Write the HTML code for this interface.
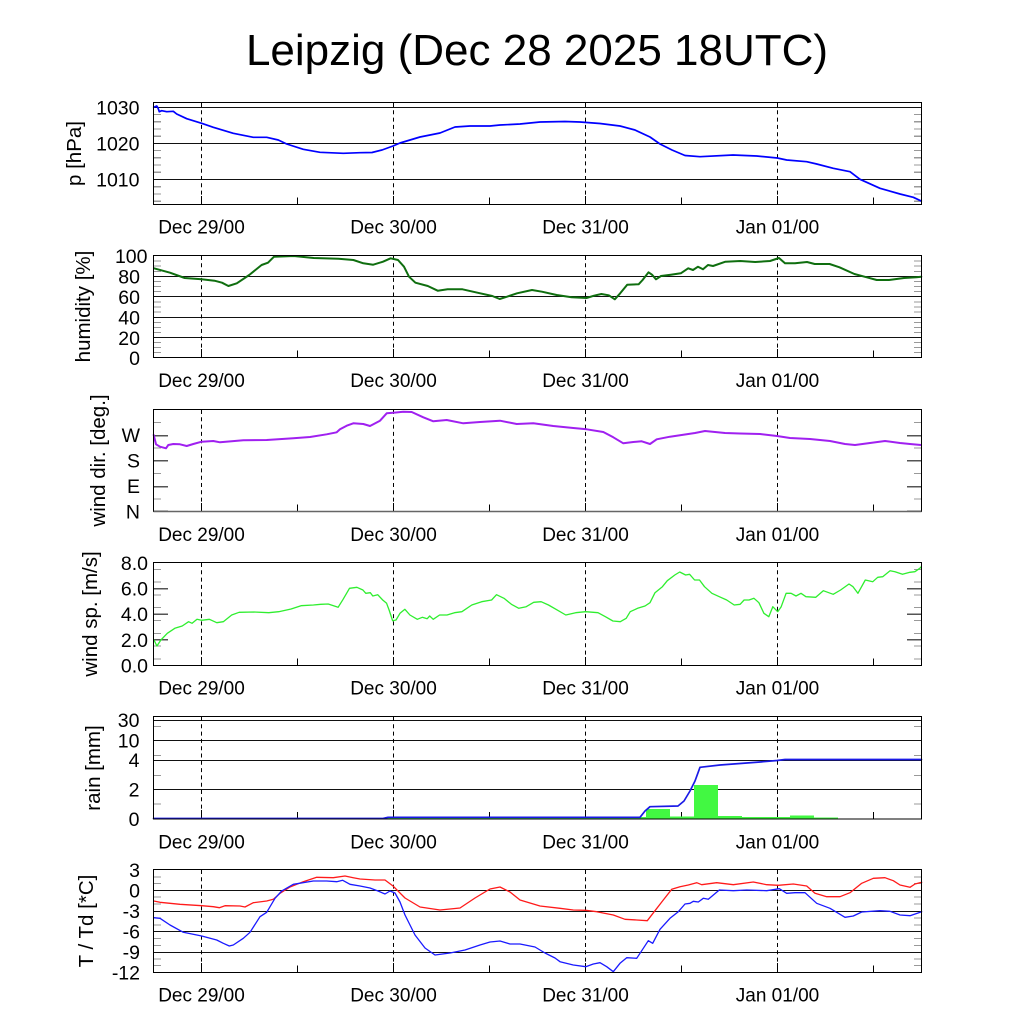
<!DOCTYPE html>
<html><head><meta charset="utf-8"><style>
html,body{margin:0;padding:0;background:#fff;}
svg{display:block;}
text{font-family:"Liberation Sans",Arial,sans-serif;fill:#000;}
.tl{font-size:19.5px;text-anchor:end;}
.xl{font-size:19px;text-anchor:middle;}
.yl{font-size:20.5px;text-anchor:middle;}
.fr{fill:none;stroke:#000;stroke-width:1;}
.gr{stroke:#111;stroke-width:1;shape-rendering:crispEdges;}
.dl{stroke:#000;stroke-width:1;stroke-dasharray:4 3.3;}
.mt{stroke:#999;stroke-width:1.2;shape-rendering:crispEdges;}
.Mt{stroke:#555;stroke-width:1.5;shape-rendering:crispEdges;}
.xt{stroke:#000;stroke-width:1;}
.ln{fill:none;stroke-linejoin:round;stroke-linecap:round;}
</style></head><body>
<svg width="1024" height="1024" viewBox="0 0 1024 1024" xmlns="http://www.w3.org/2000/svg">
<rect x="0" y="0" width="1024" height="1024" fill="#fff"/>
<text x="537" y="65" style="font-size:44px;text-anchor:middle;">Leipzig (Dec 28 2025 18UTC)</text>

<!-- ============ PANEL 1: pressure ============ -->
<g>
<line class="gr" x1="153.5" y1="107.5" x2="921.5" y2="107.5"/>
<line class="gr" x1="153.5" y1="143.5" x2="921.5" y2="143.5"/>
<line class="gr" x1="153.5" y1="179.5" x2="921.5" y2="179.5"/>
<g class="mt">
<line x1="154" y1="114.5" x2="161" y2="114.5"/><line x1="154" y1="121.8" x2="161" y2="121.8"/><line x1="154" y1="129" x2="161" y2="129"/><line x1="154" y1="136.3" x2="161" y2="136.3"/>
<line x1="154" y1="150.5" x2="161" y2="150.5"/><line x1="154" y1="157.8" x2="161" y2="157.8"/><line x1="154" y1="165" x2="161" y2="165"/><line x1="154" y1="172.3" x2="161" y2="172.3"/>
<line x1="154" y1="186.8" x2="161" y2="186.8"/><line x1="154" y1="194" x2="161" y2="194"/><line x1="154" y1="201.3" x2="161" y2="201.3"/>
<line x1="914" y1="114.5" x2="921" y2="114.5"/><line x1="914" y1="121.8" x2="921" y2="121.8"/><line x1="914" y1="129" x2="921" y2="129"/><line x1="914" y1="136.3" x2="921" y2="136.3"/>
<line x1="914" y1="150.5" x2="921" y2="150.5"/><line x1="914" y1="157.8" x2="921" y2="157.8"/><line x1="914" y1="165" x2="921" y2="165"/><line x1="914" y1="172.3" x2="921" y2="172.3"/>
<line x1="914" y1="186.8" x2="921" y2="186.8"/><line x1="914" y1="194" x2="921" y2="194"/><line x1="914" y1="201.3" x2="921" y2="201.3"/>
</g>
<line class="dl" x1="201.5" y1="103" x2="201.5" y2="196"/><line class="dl" x1="393.5" y1="103" x2="393.5" y2="196"/><line class="dl" x1="585.5" y1="103" x2="585.5" y2="196"/><line class="dl" x1="777.5" y1="103" x2="777.5" y2="196"/>
<g class="xt"><line x1="201.5" y1="196" x2="201.5" y2="204.5"/><line x1="393.5" y1="196" x2="393.5" y2="204.5"/><line x1="585.5" y1="196" x2="585.5" y2="204.5"/><line x1="777.5" y1="196" x2="777.5" y2="204.5"/>
<line x1="297.5" y1="197.5" x2="297.5" y2="204.5"/><line x1="489.5" y1="197.5" x2="489.5" y2="204.5"/><line x1="681.5" y1="197.5" x2="681.5" y2="204.5"/><line x1="873.5" y1="197.5" x2="873.5" y2="204.5"/></g>
<polyline class="ln" stroke="#0000ff" stroke-width="1.7" points="153.7,107.3 156.7,106 158,108 159.3,111.7 161.7,110.7 166.7,111.7 173.3,111.3 176.7,114 186.7,118.7 201.7,123.3 213.3,127.3 233.3,133.3 253.3,137.3 266.7,137.3 278.3,140 286.7,144 303.3,149.3 320,152.3 343.3,153.3 360,152.7 372,152.5 382,150 393,146 400,143 420,137 440,133 455,127 470,126 490,126 500,125 520,124 540,122 565,121.5 580,122 600,123.5 620,126 635,130 650,137 660,144 672,150 685,155.5 700,156.7 733,155 756.7,156 777.3,158 786.7,160 806.7,161.7 816.7,164 833.3,168.3 850,171.7 860,179.3 880,188.3 900,194 913.3,197.3 921.3,201"/>
<rect class="fr" x="153.5" y="102.5" width="768" height="102"/>
<text class="tl" x="139.5" y="114.5">1030</text>
<text class="tl" x="139.5" y="150.5">1020</text>
<text class="tl" x="139.5" y="186.5">1010</text>
<text class="yl" transform="translate(81,153.5) rotate(-90)">p [hPa]</text>
<text class="xl" x="201.5" y="233.5">Dec 29/00</text><text class="xl" x="393.5" y="233.5">Dec 30/00</text><text class="xl" x="585.5" y="233.5">Dec 31/00</text><text class="xl" x="777.5" y="233.5">Jan 01/00</text>
</g>

<!-- ============ PANEL 2: humidity ============ -->
<g>
<line class="gr" x1="153.5" y1="276.5" x2="921.5" y2="276.5"/>
<line class="gr" x1="153.5" y1="296.5" x2="921.5" y2="296.5"/>
<line class="gr" x1="153.5" y1="317.5" x2="921.5" y2="317.5"/>
<line class="gr" x1="153.5" y1="337.5" x2="921.5" y2="337.5"/>
<g class="mt">
<line x1="154" y1="261" x2="161" y2="261"/><line x1="154" y1="266" x2="161" y2="266"/><line x1="154" y1="271.5" x2="161" y2="271.5"/>
<line x1="154" y1="281.5" x2="161" y2="281.5"/><line x1="154" y1="286.5" x2="161" y2="286.5"/><line x1="154" y1="291.5" x2="161" y2="291.5"/>
<line x1="154" y1="302" x2="161" y2="302"/><line x1="154" y1="307" x2="161" y2="307"/><line x1="154" y1="312" x2="161" y2="312"/>
<line x1="154" y1="322.5" x2="161" y2="322.5"/><line x1="154" y1="327.5" x2="161" y2="327.5"/><line x1="154" y1="332.5" x2="161" y2="332.5"/>
<line x1="154" y1="342.5" x2="161" y2="342.5"/><line x1="154" y1="347.5" x2="161" y2="347.5"/><line x1="154" y1="352.5" x2="161" y2="352.5"/>
<line x1="914" y1="261" x2="921" y2="261"/><line x1="914" y1="266" x2="921" y2="266"/><line x1="914" y1="271.5" x2="921" y2="271.5"/>
<line x1="914" y1="281.5" x2="921" y2="281.5"/><line x1="914" y1="286.5" x2="921" y2="286.5"/><line x1="914" y1="291.5" x2="921" y2="291.5"/>
<line x1="914" y1="302" x2="921" y2="302"/><line x1="914" y1="307" x2="921" y2="307"/><line x1="914" y1="312" x2="921" y2="312"/>
<line x1="914" y1="322.5" x2="921" y2="322.5"/><line x1="914" y1="327.5" x2="921" y2="327.5"/><line x1="914" y1="332.5" x2="921" y2="332.5"/>
<line x1="914" y1="342.5" x2="921" y2="342.5"/><line x1="914" y1="347.5" x2="921" y2="347.5"/><line x1="914" y1="352.5" x2="921" y2="352.5"/>
</g>
<line class="dl" x1="201.5" y1="256" x2="201.5" y2="349"/><line class="dl" x1="393.5" y1="256" x2="393.5" y2="349"/><line class="dl" x1="585.5" y1="256" x2="585.5" y2="349"/><line class="dl" x1="777.5" y1="256" x2="777.5" y2="349"/>
<g class="xt"><line x1="201.5" y1="349" x2="201.5" y2="357.5"/><line x1="393.5" y1="349" x2="393.5" y2="357.5"/><line x1="585.5" y1="349" x2="585.5" y2="357.5"/><line x1="777.5" y1="349" x2="777.5" y2="357.5"/>
<line x1="297.5" y1="350.5" x2="297.5" y2="357.5"/><line x1="489.5" y1="350.5" x2="489.5" y2="357.5"/><line x1="681.5" y1="350.5" x2="681.5" y2="357.5"/><line x1="873.5" y1="350.5" x2="873.5" y2="357.5"/></g>
<polyline class="ln" stroke="#0f6e0f" stroke-width="2" points="154,268.3 170,272.7 184.7,278 201.6,279.3 214.5,280.7 222,282.7 228.4,286 236.8,283.3 249.2,275 261.6,265 268,262.7 274,256.7 293.8,256 313.7,258 338.5,258.7 353.4,260 363.3,263.3 373.2,264.7 383,261.7 390.6,258.3 398,260 404,266.7 409,276.7 415.4,282.7 427.8,286 437.7,290.7 447.6,289.3 462.5,289.3 477.4,292.7 492.3,296 499.7,299 507,296.7 517,293.3 532,290 541.9,291.7 556.7,295 571.6,297.3 586.5,298 594,295.7 601.4,294 608.8,295.3 614.8,299.3 620.2,293.3 627.2,284.7 638.6,284.3 642.6,280 648.5,272.3 652,274.7 656,279.3 661,276 670.8,274.7 680.8,273.3 688.2,268.3 693,270 698,266.7 703,269.3 708,265 713,266 725.4,261.7 740.3,261 755.2,262 770,261 779,258 785,263.3 795,263.3 807,262 814.7,264 829.6,264 839.5,267.3 854.4,274 866.8,277.3 876.7,280 889,280 904,278 916.4,277.3 921.3,276.7"/>
<rect class="fr" x="153.5" y="255.5" width="768" height="102"/>
<text class="tl" x="147.5" y="263">100</text>
<text class="tl" x="140" y="283.5">80</text>
<text class="tl" x="140" y="304">60</text>
<text class="tl" x="140" y="324.5">40</text>
<text class="tl" x="140" y="345">20</text>
<text class="tl" x="140" y="365">0</text>
<text class="yl" transform="translate(90,306.5) rotate(-90)">humidity [%]</text>
<text class="xl" x="201.5" y="387">Dec 29/00</text><text class="xl" x="393.5" y="387">Dec 30/00</text><text class="xl" x="585.5" y="387">Dec 31/00</text><text class="xl" x="777.5" y="387">Jan 01/00</text>
</g>

<!-- ============ PANEL 3: wind dir ============ -->
<g>
<g class="mt">
<line x1="154" y1="422.5" x2="161" y2="422.5"/><line x1="154" y1="448" x2="161" y2="448"/><line x1="154" y1="473.5" x2="161" y2="473.5"/><line x1="154" y1="499" x2="161" y2="499"/>
<line x1="914" y1="422.5" x2="921" y2="422.5"/><line x1="914" y1="448" x2="921" y2="448"/><line x1="914" y1="473.5" x2="921" y2="473.5"/><line x1="914" y1="499" x2="921" y2="499"/>
</g>
<g class="Mt">
<line x1="154" y1="435.5" x2="168" y2="435.5"/><line x1="154" y1="460.5" x2="168" y2="460.5"/><line x1="154" y1="486.5" x2="168" y2="486.5"/><line x1="154" y1="511" x2="168" y2="511"/>
<line x1="907" y1="435.5" x2="921" y2="435.5"/><line x1="907" y1="460.5" x2="921" y2="460.5"/><line x1="907" y1="486.5" x2="921" y2="486.5"/><line x1="907" y1="511" x2="921" y2="511"/>
</g>
<line class="dl" x1="201.5" y1="410" x2="201.5" y2="503"/><line class="dl" x1="393.5" y1="410" x2="393.5" y2="503"/><line class="dl" x1="585.5" y1="410" x2="585.5" y2="503"/><line class="dl" x1="777.5" y1="410" x2="777.5" y2="503"/>
<g class="xt"><line x1="201.5" y1="503" x2="201.5" y2="511.5"/><line x1="393.5" y1="503" x2="393.5" y2="511.5"/><line x1="585.5" y1="503" x2="585.5" y2="511.5"/><line x1="777.5" y1="503" x2="777.5" y2="511.5"/>
<line x1="297.5" y1="504.5" x2="297.5" y2="511.5"/><line x1="489.5" y1="504.5" x2="489.5" y2="511.5"/><line x1="681.5" y1="504.5" x2="681.5" y2="511.5"/><line x1="873.5" y1="504.5" x2="873.5" y2="511.5"/></g>
<polyline class="ln" stroke="#a020f0" stroke-width="2" points="153.7,435 156,444.3 160,446.7 166,448.3 168.3,445 173.3,444 180,444.3 186.7,446 193.3,444 201.7,441.7 213.3,441 220,442.3 243.3,440.3 266.7,440 293.3,438.3 310,437 326.7,434.3 336.7,432.3 340,429.3 346.7,425.7 353.3,423.3 363.3,424 370,426 380,420.7 386.7,413.3 393.3,412.7 403.3,411.7 411.7,412 423.3,417.3 433.3,421.3 446.7,420 463.3,423.3 480,422 500,420.7 516.7,424 533.3,423.3 553.3,426 573.3,428 586.7,429.3 603.3,432 613.3,437.3 623.3,443.3 633.3,442 641.7,441.3 650,444 656.7,439.3 670,436.7 680,435.3 695,433 705,431 715,432 725,433 740,433.5 760,434 777,436 790,438 810,439 830,441 845,444 855,445 870,443 885,441 900,443 910,444 921,445"/>
<rect class="fr" x="153.5" y="409.5" width="768" height="102"/>
<line x1="153.5" y1="511.5" x2="921.5" y2="511.5" stroke="#666" stroke-width="1.5"/>
<text class="tl" x="140" y="442">W</text>
<text class="tl" x="140" y="467.5">S</text>
<text class="tl" x="140" y="493">E</text>
<text class="tl" x="140" y="518.5">N</text>
<text class="yl" transform="translate(105,460.5) rotate(-90)">wind dir. [deg.]</text>
<text class="xl" x="201.5" y="541">Dec 29/00</text><text class="xl" x="393.5" y="541">Dec 30/00</text><text class="xl" x="585.5" y="541">Dec 31/00</text><text class="xl" x="777.5" y="541">Jan 01/00</text>
</g>

<!-- ============ PANEL 4: wind speed ============ -->
<g>
<g class="mt">
<line x1="154" y1="569.5" x2="161" y2="569.5"/><line x1="154" y1="582" x2="161" y2="582"/><line x1="154" y1="595" x2="161" y2="595"/>
<line x1="154" y1="607.5" x2="161" y2="607.5"/><line x1="154" y1="620.5" x2="161" y2="620.5"/><line x1="154" y1="633.5" x2="161" y2="633.5"/>
<line x1="154" y1="646" x2="161" y2="646"/><line x1="154" y1="659" x2="161" y2="659"/>
<line x1="914" y1="569.5" x2="921" y2="569.5"/><line x1="914" y1="582" x2="921" y2="582"/><line x1="914" y1="595" x2="921" y2="595"/>
<line x1="914" y1="607.5" x2="921" y2="607.5"/><line x1="914" y1="620.5" x2="921" y2="620.5"/><line x1="914" y1="633.5" x2="921" y2="633.5"/>
<line x1="914" y1="646" x2="921" y2="646"/><line x1="914" y1="659" x2="921" y2="659"/>
</g>
<g class="Mt">
<line x1="154" y1="588.5" x2="168" y2="588.5"/><line x1="154" y1="614" x2="168" y2="614"/><line x1="154" y1="639.5" x2="168" y2="639.5"/>
<line x1="907" y1="588.5" x2="921" y2="588.5"/><line x1="907" y1="614" x2="921" y2="614"/><line x1="907" y1="639.5" x2="921" y2="639.5"/>
</g>
<line class="dl" x1="201.5" y1="563" x2="201.5" y2="657"/><line class="dl" x1="393.5" y1="563" x2="393.5" y2="657"/><line class="dl" x1="585.5" y1="563" x2="585.5" y2="657"/><line class="dl" x1="777.5" y1="563" x2="777.5" y2="657"/>
<g class="xt"><line x1="201.5" y1="657" x2="201.5" y2="665.5"/><line x1="393.5" y1="657" x2="393.5" y2="665.5"/><line x1="585.5" y1="657" x2="585.5" y2="665.5"/><line x1="777.5" y1="657" x2="777.5" y2="665.5"/>
<line x1="297.5" y1="658.5" x2="297.5" y2="665.5"/><line x1="489.5" y1="658.5" x2="489.5" y2="665.5"/><line x1="681.5" y1="658.5" x2="681.5" y2="665.5"/><line x1="873.5" y1="658.5" x2="873.5" y2="665.5"/></g>
<polyline class="ln" stroke="#2fee2f" stroke-width="1.3" points="154,640 156.9,646 160.9,640 167.3,633.3 174.8,628.3 182.2,626 188.6,621.7 192.1,623.3 197,619.3 201.5,620.3 209.4,619.3 216.8,622.7 223.3,621.7 231.7,615 239.1,612.3 254,612 268.8,612.7 278.7,611.7 291.1,609 301,605.7 313.4,605 320.8,604.3 328.2,604 338.1,607.3 343.1,599.3 349.5,588.3 356.9,587.3 362.9,590 365.8,593.3 370.3,592.7 372.8,596 377.7,594.7 382.7,600 386.6,603.3 389.1,610 392.6,620.7 396,620 400,613.3 404.9,609.3 409.9,615 417.3,619.3 422.3,617.3 427.2,618.7 429.7,616 433.2,619.3 439.6,615 447,615 454.5,612.7 461.9,611.7 471.8,605 481.7,601.7 491.6,600 496.5,594.7 504,598.3 511.4,604.3 518.8,608.3 526.2,606.7 533.7,602.3 541.1,601.7 548.5,605 556,609.3 565.8,615 575.7,612.7 585.6,611.7 598,612.7 605.4,616.7 612.9,621 620.3,621.7 626.2,618.3 630.2,611.7 637.6,608.3 645,606 650,602.7 655,592.7 662.4,586.7 667.3,580.7 674.8,575 679.7,572 685.6,575 689.6,574.3 694.6,580 699.5,580 704.5,586.7 711.9,593.3 719.3,596.7 726.7,600 734.2,605 740.1,604.3 744.1,600 749,600 754,598.3 758.9,602.7 763.9,613.3 768.8,616.7 772.8,606.7 777.7,611.7 781.2,606.7 786.1,593.3 791.1,593.3 796,596 801,593.3 805.9,596.7 815.8,597.3 823.3,590.7 833.2,594.3 840.6,590 849,584 853,586.7 857.9,593.3 865.3,580 872.8,581.7 877.7,577.3 882.7,576.7 890.1,570.7 895,571.7 902.5,574.3 909.9,572.3 914.9,571.7 919.8,568.3 921.3,566.7"/>
<rect class="fr" x="153.5" y="562.5" width="768" height="103"/>
<text class="tl" x="148" y="570">8.0</text>
<text class="tl" x="148" y="595.5">6.0</text>
<text class="tl" x="148" y="621">4.0</text>
<text class="tl" x="148" y="647">2.0</text>
<text class="tl" x="148" y="672.5">0.0</text>
<text class="yl" transform="translate(97,614) rotate(-90)">wind sp. [m/s]</text>
<text class="xl" x="201.5" y="694.5">Dec 29/00</text><text class="xl" x="393.5" y="694.5">Dec 30/00</text><text class="xl" x="585.5" y="694.5">Dec 31/00</text><text class="xl" x="777.5" y="694.5">Jan 01/00</text>
</g>

<!-- ============ PANEL 5: rain ============ -->
<g>
<line class="gr" x1="153.5" y1="720.5" x2="921.5" y2="720.5"/>
<line class="gr" x1="153.5" y1="740.5" x2="921.5" y2="740.5"/>
<line class="gr" x1="153.5" y1="760.5" x2="921.5" y2="760.5"/>
<line class="gr" x1="153.5" y1="789.5" x2="921.5" y2="789.5"/>
<g class="mt">
<line x1="154" y1="726.5" x2="161" y2="726.5"/><line x1="154" y1="755.5" x2="161" y2="755.5"/><line x1="154" y1="775.5" x2="161" y2="775.5"/><line x1="154" y1="804" x2="161" y2="804"/>
<line x1="914" y1="726.5" x2="921" y2="726.5"/><line x1="914" y1="755.5" x2="921" y2="755.5"/><line x1="914" y1="775.5" x2="921" y2="775.5"/><line x1="914" y1="804" x2="921" y2="804"/>
</g>
<line class="dl" x1="201.5" y1="717" x2="201.5" y2="810"/><line class="dl" x1="393.5" y1="717" x2="393.5" y2="810"/><line class="dl" x1="585.5" y1="717" x2="585.5" y2="810"/><line class="dl" x1="777.5" y1="717" x2="777.5" y2="810"/>
<g class="xt"><line x1="201.5" y1="810" x2="201.5" y2="819"/><line x1="393.5" y1="810" x2="393.5" y2="819"/><line x1="585.5" y1="810" x2="585.5" y2="819"/><line x1="777.5" y1="810" x2="777.5" y2="819"/>
<line x1="297.5" y1="812" x2="297.5" y2="819"/><line x1="489.5" y1="812" x2="489.5" y2="819"/><line x1="681.5" y1="812" x2="681.5" y2="819"/><line x1="873.5" y1="812" x2="873.5" y2="819"/></g>
<g fill="#42f842">
<rect x="385" y="817" width="261" height="2"/>
<rect x="646" y="809" width="24" height="10"/>
<rect x="670" y="816.5" width="24" height="2.5"/>
<rect x="694" y="785" width="24" height="34"/>
<rect x="718" y="816" width="24" height="3"/>
<rect x="742" y="817" width="48" height="2"/>
<rect x="790" y="815.5" width="24" height="3.5"/>
<rect x="814" y="817.5" width="24" height="1.5"/>
</g>
<polyline class="ln" stroke="#1a1ae6" stroke-width="1.7" points="153.5,818.5 383,818.5 388,817.3 640,817.3 645,811 650,806.7 678,806 684,801 690,791 695,781 700,767.3 720,765 740,763.5 760,762 777,760.5 785,759.5 921.5,759.5"/>
<rect class="fr" x="153.5" y="716.5" width="768" height="102.5"/>
<text class="tl" x="139.5" y="727">30</text>
<text class="tl" x="139.5" y="747.5">10</text>
<text class="tl" x="139.5" y="767">4</text>
<text class="tl" x="139.5" y="796.5">2</text>
<text class="tl" x="139.5" y="826">0</text>
<text class="yl" transform="translate(100,768) rotate(-90)">rain [mm]</text>
<text class="xl" x="201.5" y="848.5">Dec 29/00</text><text class="xl" x="393.5" y="848.5">Dec 30/00</text><text class="xl" x="585.5" y="848.5">Dec 31/00</text><text class="xl" x="777.5" y="848.5">Jan 01/00</text>
</g>

<!-- ============ PANEL 6: temperature ============ -->
<g>
<line class="gr" x1="153.5" y1="890.5" x2="921.5" y2="890.5"/>
<line class="gr" x1="153.5" y1="911.5" x2="921.5" y2="911.5"/>
<line class="gr" x1="153.5" y1="931.5" x2="921.5" y2="931.5"/>
<line class="gr" x1="153.5" y1="952.5" x2="921.5" y2="952.5"/>
<g class="mt">
<line x1="154" y1="877" x2="161" y2="877"/><line x1="154" y1="883.5" x2="161" y2="883.5"/>
<line x1="154" y1="897" x2="161" y2="897"/><line x1="154" y1="904" x2="161" y2="904"/>
<line x1="154" y1="918" x2="161" y2="918"/><line x1="154" y1="925" x2="161" y2="925"/>
<line x1="154" y1="938.5" x2="161" y2="938.5"/><line x1="154" y1="945.5" x2="161" y2="945.5"/>
<line x1="154" y1="959" x2="161" y2="959"/><line x1="154" y1="965.5" x2="161" y2="965.5"/>
<line x1="914" y1="877" x2="921" y2="877"/><line x1="914" y1="883.5" x2="921" y2="883.5"/>
<line x1="914" y1="897" x2="921" y2="897"/><line x1="914" y1="904" x2="921" y2="904"/>
<line x1="914" y1="918" x2="921" y2="918"/><line x1="914" y1="925" x2="921" y2="925"/>
<line x1="914" y1="938.5" x2="921" y2="938.5"/><line x1="914" y1="945.5" x2="921" y2="945.5"/>
<line x1="914" y1="959" x2="921" y2="959"/><line x1="914" y1="965.5" x2="921" y2="965.5"/>
</g>
<line class="dl" x1="201.5" y1="870" x2="201.5" y2="963"/><line class="dl" x1="393.5" y1="870" x2="393.5" y2="963"/><line class="dl" x1="585.5" y1="870" x2="585.5" y2="963"/><line class="dl" x1="777.5" y1="870" x2="777.5" y2="963"/>
<g class="xt"><line x1="201.5" y1="963" x2="201.5" y2="972.5"/><line x1="393.5" y1="963" x2="393.5" y2="972.5"/><line x1="585.5" y1="963" x2="585.5" y2="972.5"/><line x1="777.5" y1="963" x2="777.5" y2="972.5"/>
<line x1="297.5" y1="965.5" x2="297.5" y2="972.5"/><line x1="489.5" y1="965.5" x2="489.5" y2="972.5"/><line x1="681.5" y1="965.5" x2="681.5" y2="972.5"/><line x1="873.5" y1="965.5" x2="873.5" y2="972.5"/></g>
<polyline class="ln" stroke="#ff1a1a" stroke-width="1.3" points="153.7,901 160,902.3 180,904.3 201.7,905.7 213.3,906.7 219.3,907.7 225,905.7 240,906 245,907 253.3,902.7 266.7,901 273.3,899.3 280,893.3 290,887 303.3,881.7 316.7,877.3 333.3,877.7 345,876 353.3,877.7 360,879 375,880 385,880 393,886 405,898 420,907 440,910 460,908 475,898 490,889 500,887 510,892 520,900 540,906 560,908.3 573.3,910 585.7,910.3 596.7,911.7 613.3,915 625,919.3 636.7,920 647.3,920.7 655,910.7 663.3,900 671.7,889.3 680,886.7 688.3,885 696.7,882.7 701.7,884.7 716.7,882.7 733.3,884.7 753.3,882 766.7,884.7 778.3,885.3 793.3,884 806.7,886 815,893.3 826.7,896.7 840,896.7 850,892.7 861.7,883.3 873.3,878.3 885,877.7 893.3,880.7 900,885 910,887.3 915,884 921.7,882.3"/>
<polyline class="ln" stroke="#1a1aff" stroke-width="1.3" points="153.7,917.7 160,918.3 170,925 183.3,932.3 201.7,936 216.7,940 223.3,943.3 229.3,946 233.3,945 243.3,938.3 250,932.3 260,916.7 266.7,912.3 275,898.3 281.7,891 293.3,884.3 313.3,881 326.7,881 336.7,881.7 342.7,880.3 350,884.3 360,886 370,888 378,891 385,894 390,891 395,893 400,902 405,915 415,935 425,948 435,955 450,953 465,950 480,945 490,942 500,941 510,944 520,944 535,947 545,953 555,958 560,961.7 573.3,965 585.7,966.7 593.3,964 600,962.7 606.7,966.7 613.3,971.7 620,963.3 626.7,957.7 636.7,958.3 643.3,948.3 648.3,940.7 652.7,943.3 660,929.3 670,918.3 678.3,911.7 685,904 690,903.3 693.3,901.3 698.3,902 703.3,898.3 708.3,899.3 719.3,890 733.3,890.7 746.7,890 766.7,890.7 779.3,888.7 786.7,893.3 795,892.7 805,892.7 816.7,903.3 830,908.3 845,917.3 853.3,916 861.7,912 880,910.7 890,911.3 900,915 910,915.7 921.7,911.7"/>
<rect class="fr" x="153.5" y="869.5" width="768" height="103"/>
<text class="tl" x="140" y="877">3</text>
<text class="tl" x="140" y="897.5">0</text>
<text class="tl" x="140" y="918">-3</text>
<text class="tl" x="140" y="938.5">-6</text>
<text class="tl" x="140" y="959">-9</text>
<text class="tl" x="140" y="979.5">-12</text>
<text class="yl" transform="translate(93,921) rotate(-90)">T / Td [*C]</text>
<text class="xl" x="201.5" y="1001.5">Dec 29/00</text><text class="xl" x="393.5" y="1001.5">Dec 30/00</text><text class="xl" x="585.5" y="1001.5">Dec 31/00</text><text class="xl" x="777.5" y="1001.5">Jan 01/00</text>
</g>
</svg>
</body></html>
